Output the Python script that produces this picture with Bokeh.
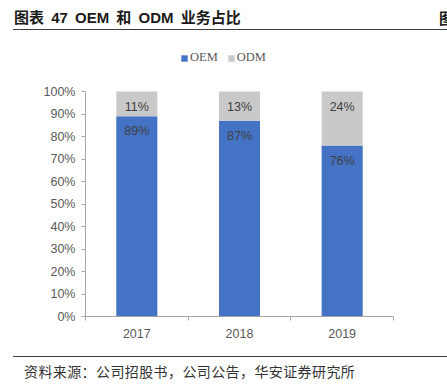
from bokeh.plotting import figure
from bokeh.models import (ColumnDataSource, Range1d, FixedTicker, NumeralTickFormatter, Div)
from bokeh.layouts import column
from bokeh.core.properties import value
from bokeh.embed import file_html
from bokeh.resources import INLINE

# ---- data ----
years = ["2017", "2018", "2019"]
oem = [0.89, 0.87, 0.76]
odm = [0.11, 0.13, 0.24]
oem_labels = ["89%", "87%", "76%"]
odm_labels = ["11%", "13%", "24%"]
y_ticks = [0, 0.1, 0.2, 0.3, 0.4, 0.5, 0.6, 0.7, 0.8, 0.9, 1.0]
series_names = ["OEM", "ODM"]

title_text = "图表 47 OEM 和 ODM 业务占比"
source_text = "资料来源：公司招股书，公司公告，华安证券研究所"

BLUE = "#4472C4"
GRAY = "#C9C9C9"
AXIS = "#A6A6A6"
TICKLBL = "#595959"
W = 447

# ---- header ----
header_html = (
    f'<div style="position:relative;width:{W}px;height:34px;overflow:hidden;">'
    '<div style="position:absolute;left:14px;top:8px;line-height:20px;white-space:nowrap;word-spacing:3px;'
    "font-family:'Liberation Sans','Noto Sans CJK SC';font-weight:bold;font-size:15px;color:#1a1a1a;\">"
    f'{title_text}</div>'
    '<div style="position:absolute;left:439px;top:8px;line-height:20px;white-space:nowrap;'
    "font-family:'Noto Sans CJK SC';font-weight:bold;font-size:15px;color:#1a1a1a;\">图</div>"
    f'<div style="position:absolute;left:13px;top:29px;width:{W - 13}px;height:0;border-top:1.3px solid #404040;"></div>'
    '</div>'
)
head = Div(text=header_html, width=W, height=34, margin=0)

# ---- main chart ----
xs = [i + 0.5 for i in range(len(years))]
tops = [a + b for a, b in zip(oem, odm)]
src = ColumnDataSource(dict(x=xs, OEM=oem, ODM=odm, top=tops,
                            oem_lbl=oem_labels, odm_lbl=odm_labels))

mh = 311
p = figure(width=W, height=mh, output_backend="svg", toolbar_location=None,
           x_range=Range1d(0, len(years)), y_range=Range1d(0, 1 + 41 / 225),
           min_border_left=85, min_border_right=54, min_border_top=16, min_border_bottom=29,
           margin=0)
p.outline_line_color = None
p.grid.visible = False

p.vbar_stack(series_names, x="x", width=0.4, color=[BLUE, GRAY], line_color=None,
             source=src, legend_label=series_names)

p.text(x="x", y="OEM", text="oem_lbl", source=src, y_offset=15,
       text_align="center", text_baseline="middle", text_font=value("Liberation Sans"),
       text_font_size="12.5px", text_color="#404040")
p.text(x="x", y="top", text="odm_lbl", source=src, y_offset=15,
       text_align="center", text_baseline="middle", text_font=value("Liberation Sans"),
       text_font_size="12.5px", text_color="#404040")

# y axis
p.yaxis.bounds = (0, 1)
p.yaxis.ticker = FixedTicker(ticks=y_ticks)
p.yaxis.formatter = NumeralTickFormatter(format="0%")
p.yaxis.axis_line_color = AXIS
p.yaxis.major_tick_line_color = AXIS
p.yaxis.major_tick_out = 4
p.yaxis.major_tick_in = 0
p.yaxis.minor_tick_line_color = None
p.yaxis.major_label_text_font = "Liberation Sans"
p.yaxis.major_label_text_font_size = "12.5px"
p.yaxis.major_label_text_color = TICKLBL
p.yaxis.major_label_standoff = 6

# x axis
p.xaxis.ticker = FixedTicker(ticks=xs, minor_ticks=list(range(len(years) + 1)))
p.xaxis.major_label_overrides = {x: y for x, y in zip(xs, years)}
p.xaxis.axis_line_color = AXIS
p.xaxis.major_tick_line_color = None
p.xaxis.minor_tick_line_color = AXIS
p.xaxis.minor_tick_out = 4
p.xaxis.minor_tick_in = 0
p.xaxis.major_label_text_font = "Liberation Sans"
p.xaxis.major_label_text_font_size = "12.5px"
p.xaxis.major_label_text_color = TICKLBL
p.xaxis.major_label_standoff = 6

lg = p.legend[0]
lg.orientation = "horizontal"
lg.location = (95, 251)
lg.padding = 0
lg.margin = 0
lg.border_line_color = None
lg.background_fill_alpha = 0
lg.glyph_width = 8
lg.glyph_height = 8
lg.label_height = 8
lg.label_standoff = 2
lg.spacing = 9
lg.label_text_font = "Liberation Serif"
lg.label_text_font_size = "12.5px"
lg.label_text_color = TICKLBL
lg.label_text_baseline = "middle"

# ---- footer ----
footer_html = (
    f'<div style="position:relative;width:{W}px;height:43px;overflow:hidden;">'
    f'<div style="position:absolute;left:13px;top:11px;width:{W - 13}px;height:0;border-top:1.3px solid #404040;"></div>'
    '<div style="position:absolute;left:24px;top:16px;line-height:20px;white-space:nowrap;letter-spacing:0.4px;'
    "font-family:'Noto Sans CJK SC';font-size:14px;color:#333333;\">"
    f'{source_text}</div>'
    '</div>'
)
foot = Div(text=footer_html, width=W, height=43, margin=0)

layout = column(head, p, foot, spacing=0)
open("out.html", "w").write(file_html(layout, INLINE))
